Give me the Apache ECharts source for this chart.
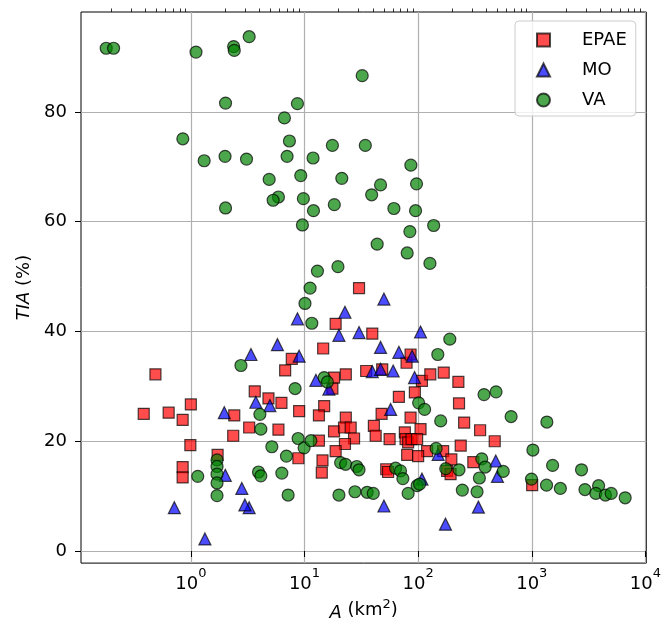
<!DOCTYPE html>
<html>
<head>
<meta charset="utf-8">
<script src="https://cdn.jsdelivr.net/npm/echarts@6/dist/echarts.min.js"></script>
<style>
  html, body { margin: 0; padding: 0; background: #fff; }
  #chart { width: 664px; height: 627px; }
</style>
</head>
<body>
<div id="chart"></div>
<script>
// catchment area (km2) and TIA (%) per group
const epaeArea = [0.488, 3.65, 0.385, 0.638, 0.847, 1.0, 0.99, 0.847, 0.847, 1.72, 2.41, 2.36, 3.26, 4.82, 6.27, 8.97, 5.9, 14.9, 13.4, 8.84,
  14.4, 14.2, 13.4, 18.2, 23.1, 22.3, 25.5, 27.3, 22.7, 18.8, 40.8, 42.3, 47.7, 67.7, 85.8, 93.6, 105, 56.1, 76.4, 77.5,
  81.7, 87.5, 98, 80.1, 52.4, 54.4, 120, 166, 180, 30.2, 18.8, 39.5, 14.6, 7.73, 6.76, 23.1, 18.2, 17.6, 34.9, 48.3,
  79.1, 85.8, 108, 128, 168, 226, 229, 254, 351, 472, 237, 196, 306, 193, 1008, 100]
const epaeTia = [32.2, 29.1, 25.0, 25.2, 23.9, 26.7, 19.3, 15.3, 13.4, 17.5, 24.7, 21.0, 22.5, 27.8, 27.0, 25.5, 22.1, 26.4, 24.7, 16.9,
  16.5, 14.3, 20.1, 21.8, 24.3, 22.5, 22.5, 20.5, 19.5, 18.2, 22.8, 21.0, 25.0, 28.1, 24.3, 28.9, 22.2, 20.4, 21.6, 20.4,
  19.8, 20.4, 20.4, 17.5, 14.9, 14.4, 18.2, 18.2, 14.6, 47.9, 41.4, 39.6, 36.9, 35.0, 32.9, 32.2, 31.6, 29.6, 32.8, 33.1,
  34.3, 35.8, 31.0, 32.2, 32.5, 30.8, 26.9, 23.4, 22.0, 20.0, 19.2, 16.7, 16.2, 14.0, 12.0, 17.3]

const moArea = [3.38, 5.78, 8.67, 8.97, 22.7, 20.1, 30.2, 50, 46.7, 67.7, 88.6, 105, 12.6, 39.5, 46.7, 60.3, 93, 16.4, 3.73, 4.96,
  57.3, 50, 108, 150, 174, 3.26, 1.97, 0.716, 1.33, 2.01, 2.81, 2.99, 482, 499, 339]
const moTia = [35.8, 37.6, 42.3, 35.5, 43.5, 39.3, 39.8, 45.9, 37.1, 36.2, 35.5, 39.9, 31.1, 32.7, 33.1, 32.8, 31.6, 29.5, 27.1, 26.5,
  25.8, 8.2, 13.1, 17.6, 4.9, 7.9, 25.2, 7.9, 2.2, 13.8, 11.4, 8.4, 16.4, 13.6, 8.0]

const vaArea = [0.18, 0.209, 1.11, 2.38, 2.41, 3.26, 2.02, 0.85, 1.31, 2.0, 3.09, 2.02, 32.2, 8.67, 6.66, 7.37, 17.6, 34.3, 7.03, 11.9,
  86.3, 4.89, 9.27, 21.3, 46.7, 96.8, 5.9, 5.3, 9.78, 18.3, 39.0, 12.0, 61.2, 94.9, 9.59, 137, 84.6, 43.6, 80.1, 127,
  13.0, 19.7, 11.2, 10.1, 11.6, 190, 149, 8.27, 14.9, 15.9, 380, 485, 1.15, 1.7, 1.7, 1.7, 1.7, 1.7, 2.76, 4.05,
  4.13, 5.16, 6.94, 8.79, 9.92, 11.4, 3.94, 4.13, 6.32, 7.18, 20.1, 27.8, 35.6, 40.3, 20.8, 23.0, 28.8, 30.2, 63.4, 70.0,
  73.4, 81.7, 98, 103, 101, 114, 158, 144, 175, 658, 1358, 1023, 363, 389, 561, 229, 346, 245, 330, 994,
  1349, 1525, 1785, 2740, 2937, 3873, 3661, 4446, 5000, 6637]
const vaTia = [91.6, 91.6, 90.9, 91.9, 91.2, 93.7, 81.6, 75.1, 71.1, 71.9, 71.4, 62.5, 86.6, 81.5, 78.9, 74.7, 73.9, 73.9, 71.9, 71.6,
  70.3, 67.7, 68.4, 67.9, 66.7, 66.9, 64.5, 63.9, 64.2, 63.1, 64.9, 62.0, 62.4, 62.0, 59.4, 59.3, 58.2, 55.9, 54.3, 52.4,
  51.0, 51.8, 47.9, 45.1, 41.5, 38.6, 35.8, 29.6, 31.6, 30.8, 28.5, 29.0, 13.6, 16.6, 15.4, 14.0, 12.4, 10.1, 33.8, 24.9,
  22.2, 19.0, 17.3, 20.5, 18.8, 20.1, 14.4, 13.7, 14.2, 10.2, 10.2, 10.8, 10.7, 10.5, 16.1, 15.8, 15.4, 14.8, 15.1, 14.6,
  13.2, 10.5, 11.9, 12.2, 27.0, 25.8, 23.7, 18.7, 15.0, 24.5, 23.5, 18.4, 16.8, 15.3, 14.5, 14.8, 13.3, 11.1, 10.8, 13.1,
  12.0, 15.6, 11.4, 14.8, 11.2, 11.9, 10.5, 10.2, 10.5, 9.7]

const xMajor = [1, 10, 100, 1000, 10000]
const xMinor = [0.2, 0.3, 0.4, 0.5, 0.6, 0.7, 0.8, 0.9, 2, 3, 4, 5, 6, 7, 8, 9, 20, 30, 40, 50, 60, 70, 80, 90,
  200, 300, 400, 500, 600, 700, 800, 900, 2000, 3000, 4000, 5000, 6000, 7000, 8000, 9000]
const yTicks = [0, 20, 40, 60, 80]

const FONT = 'DejaVu Sans'
const zip = (xs, ys) => xs.map((x, i) => [x, ys[i]])

function scatter(name, symbol, size, color, xs, ys) {
  return {
    name,
    type: 'scatter',
    symbol,
    symbolSize: size,
    itemStyle: { color, opacity: 0.7, borderColor: '#000', borderWidth: 1.2 },
    emphasis: { disabled: true },
    data: zip(xs, ys),
  }
}

const chart = echarts.init(document.getElementById('chart'), null, { renderer: 'canvas' })
chart.setOption({
  animation: false,
  textStyle: { fontFamily: FONT },
  grid: { left: 81, right: 16, top: 12, bottom: 63, show: true, borderColor: '#000', borderWidth: 1, backgroundColor: 'transparent' },
  legend: {
    orient: 'vertical',
    left: 515,
    top: 21,
    padding: [10, 9, 7, 21],
    itemWidth: 13,
    itemHeight: 13,
    itemGap: 12,
    backgroundColor: 'rgba(255,255,255,0.8)',
    borderColor: '#cccccc',
    borderWidth: 1,
    borderRadius: 4,
    textStyle: { fontFamily: FONT, fontSize: 18, color: '#000', lineHeight: 18, padding: [0, 0, 0, 27] },
    data: ['EPAE', 'MO', 'VA'],
  },
  xAxis: [
    {
      type: 'log',
      logBase: 10,
      min: 0.108,
      max: 10186,
      axisLine: { show: false },
      axisTick: { show: true, inside: false, length: 6, lineStyle: { color: '#000', width: 1 }, customValues: xMajor },
      axisLabel: {
        customValues: xMajor,
        margin: 4,
        formatter: (v) => '{b|10}{s|' + Math.round(Math.log10(v)) + '}',
        rich: {
          b: { fontFamily: FONT, fontSize: 18, color: '#000', lineHeight: 26, verticalAlign: 'bottom' },
          s: { fontFamily: FONT, fontSize: 13, color: '#000', lineHeight: 13, verticalAlign: 'top' },
        },
      },
      splitLine: { show: true, lineStyle: { color: '#b0b0b0', width: 1.2 } },
      name: '{i|A} (km{s|2})',
      nameLocation: 'middle',
      nameGap: 30,
      nameTextStyle: {
        fontFamily: FONT, fontSize: 18, color: '#000',
        rich: {
          i: { fontFamily: FONT, fontSize: 18, fontStyle: 'italic', color: '#000', lineHeight: 24, verticalAlign: 'bottom' },
          s: { fontFamily: FONT, fontSize: 13, color: '#000', lineHeight: 13, verticalAlign: 'top' },
        },
      },
    },
    {
      type: 'log',
      logBase: 10,
      min: 0.108,
      max: 10186,
      axisLine: { show: false },
      axisTick: { show: true, inside: false, length: 3.5, lineStyle: { color: '#000', width: 0.8 }, customValues: xMinor },
      axisLabel: { show: false },
      splitLine: { show: false },
    },
  ],
  yAxis: {
    type: 'value',
    min: -2.2,
    max: 98.2,
    axisLine: { show: false },
    axisTick: { show: true, inside: false, length: 6, lineStyle: { color: '#000', width: 1 }, customValues: yTicks },
    axisLabel: { customValues: yTicks, margin: 14, fontFamily: FONT, fontSize: 18, color: '#000' },
    splitLine: { show: true, lineStyle: { color: '#b0b0b0', width: 1.2 } },
    name: '{i|TIA} (%)',
    nameLocation: 'middle',
    nameGap: 48,
    nameRotate: 90,
    nameTextStyle: {
      fontFamily: FONT, fontSize: 18, color: '#000',
      rich: { i: { fontFamily: FONT, fontSize: 18, fontStyle: 'italic', color: '#000' } },
    },
  },
  series: [
    scatter('EPAE', 'rect', 11, '#ff0000', epaeArea, epaeTia),
    scatter('MO', 'triangle', 12, '#0000ff', moArea, moTia),
    scatter('VA', 'circle', 12, '#008000', vaArea, vaTia),
  ],
})
</script>
</body>
</html>
